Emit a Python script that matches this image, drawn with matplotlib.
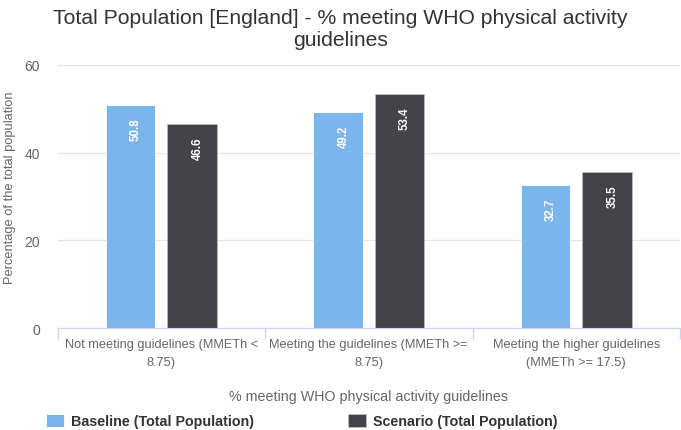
import matplotlib.pyplot as plt
import numpy as np
from matplotlib.ticker import FixedLocator

plt.rcParams['font.family'] = ['Liberation Sans', 'DejaVu Sans']

categories = ['Not meeting guidelines (MMETh <\n8.75)',
              'Meeting the guidelines (MMETh >=\n8.75)',
              'Meeting the higher guidelines\n(MMETh >= 17.5)']
baseline = [50.8, 49.2, 32.7]
scenario = [46.6, 53.4, 35.5]
series_names = ['Baseline (Total Population)', 'Scenario (Total Population)']
colors = ['#7cb5ec', '#434348']

fig = plt.figure(figsize=(6.81, 4.31), dpi=100)
ax = fig.add_axes([57.5 / 681, 1 - 329.3 / 431, (680 - 57.5) / 681, (329.3 - 65.7) / 431])

x = np.arange(len(categories))
w = 0.24
off = 0.148
b1 = ax.bar(x - off, baseline, w, color=colors[0], edgecolor='white', linewidth=0.6, zorder=3,
            label=series_names[0])
b2 = ax.bar(x + off, scenario, w, color=colors[1], edgecolor='#bbbbbb', linewidth=0.6, zorder=3,
            label=series_names[1])

for bars, vals in [(b1, baseline), (b2, scenario)]:
    for rect, v in zip(bars, vals):
        ax.annotate(f'{v:.1f}', (rect.get_x() + rect.get_width() / 2, v),
                    xytext=(4, -9), textcoords='offset points',
                    rotation=90, ha='center', va='top', color='white',
                    fontsize=8.3, fontweight='bold', zorder=4)

ax.set_xlim(-0.5, 2.5)
ax.set_ylim(0, 60)
ax.set_yticks([0, 20, 40, 60])
ax.yaxis.grid(True, color='#e6e6e6', linewidth=1, zorder=0)
ax.tick_params(axis='y', length=0, pad=12.5, labelsize=10, labelcolor='#666666')
ax.set_xticks(x)
ax.set_xticklabels(categories, fontsize=9.2, color='#666666', linespacing=1.7)
ax.tick_params(axis='x', which='major', length=0, pad=7)
ax.xaxis.set_minor_locator(FixedLocator([-0.5, 0.5, 1.5, 2.5]))
ax.tick_params(axis='x', which='minor', length=8, width=1, color='#ccd6eb')
for s in ['top', 'right', 'left']:
    ax.spines[s].set_visible(False)
ax.spines['bottom'].set_color('#ccd6eb')
ax.spines['bottom'].set_zorder(5)

ax.set_ylabel('Percentage of the total population', fontsize=9.3, color='#666666')
ax.yaxis.set_label_coords(-41.5 / 622.5, (329.3 - 188) / 263.6)
ax.set_xlabel('% meeting WHO physical activity guidelines', fontsize=10.25, color='#666666', labelpad=15)

fig.text(0.5, 1 - 29 / 431, 'Total Population [England] - % meeting WHO physical activity\nguidelines',
         ha='center', va='center', fontsize=15.2, color='#333333', linespacing=1.2)

fig.legend(handles=[b1, b2], loc='center left', bbox_to_anchor=(46 / 681, 1 - 422 / 431),
           ncol=2, frameon=False, borderpad=0, borderaxespad=0, handlelength=1.25, handleheight=1.0,
           handletextpad=0.5, columnspacing=6.58,
           prop={'weight': 'bold', 'size': 10.3}, labelcolor='#333333')

fig.savefig('out.png', dpi=100)
